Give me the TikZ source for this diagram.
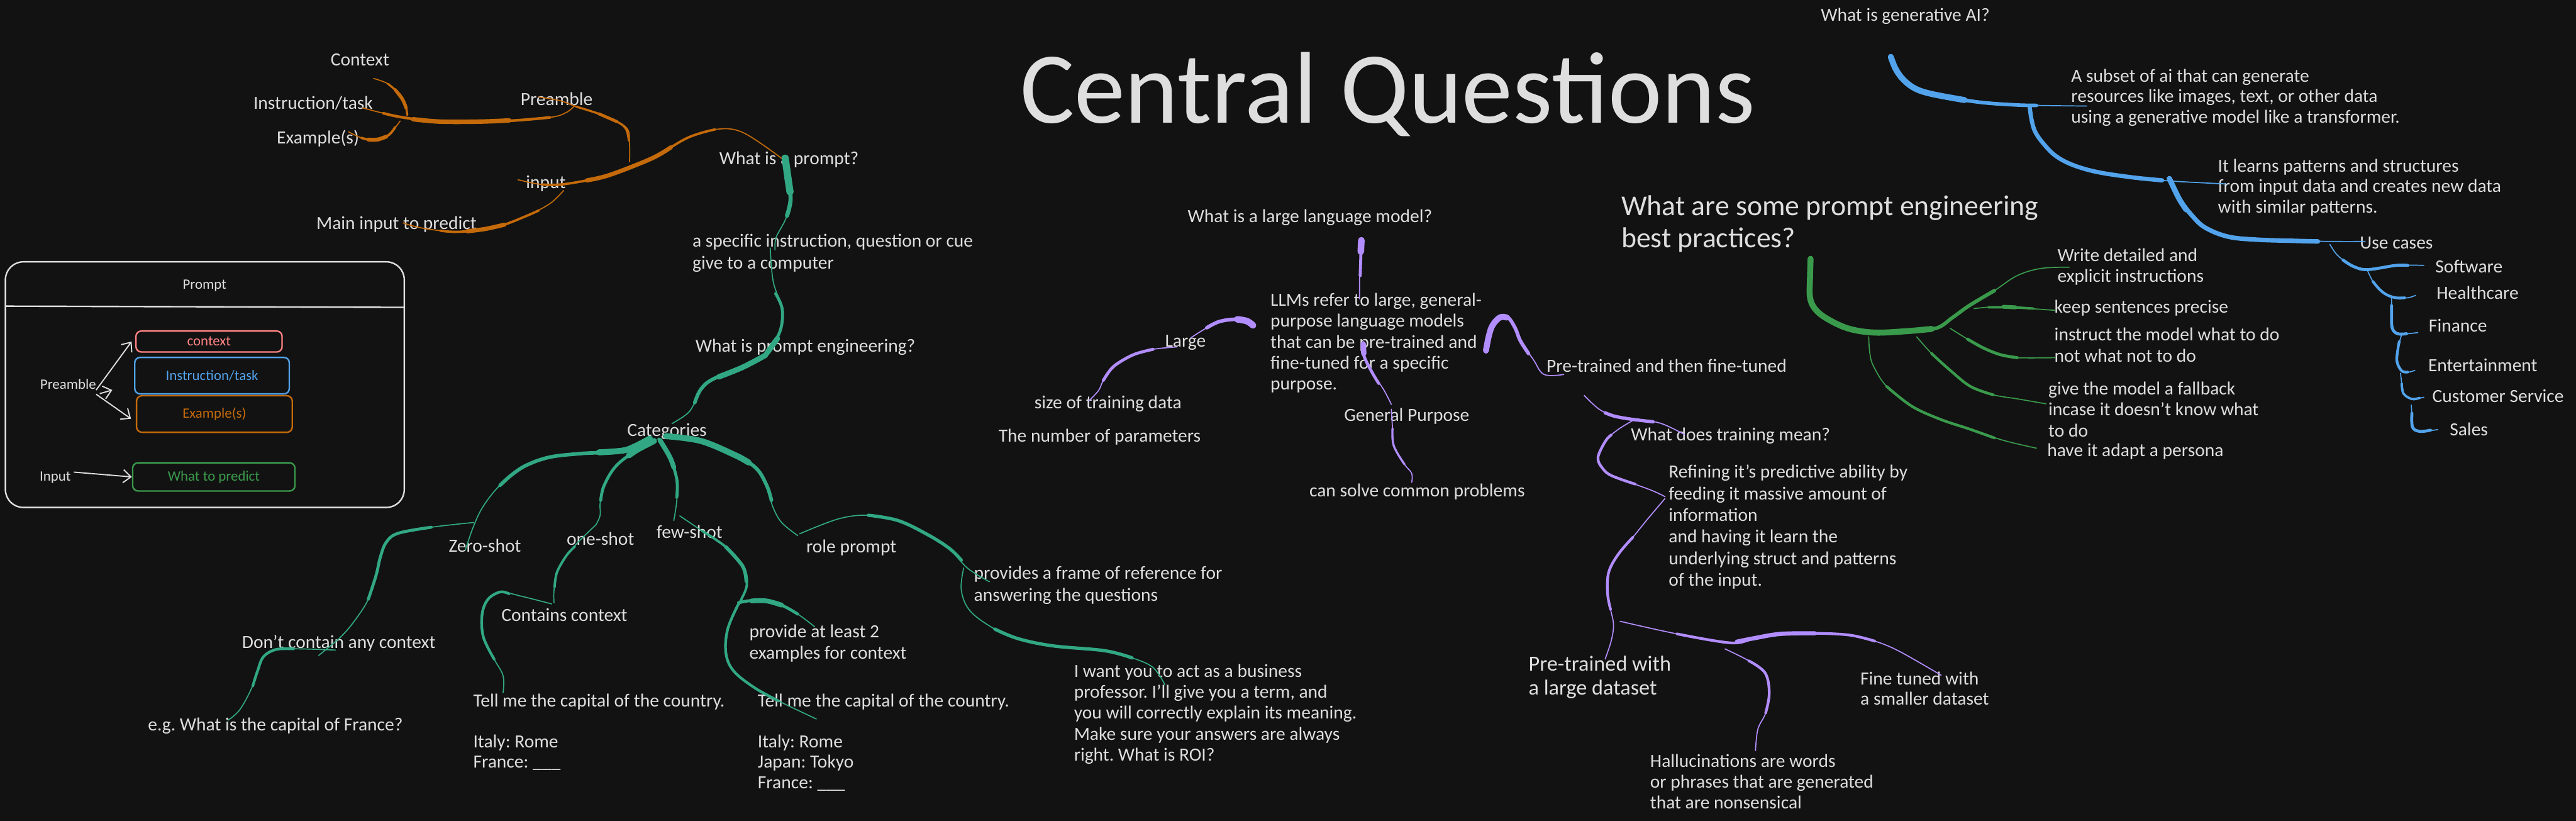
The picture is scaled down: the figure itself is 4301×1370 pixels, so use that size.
\documentclass[tikz,border=0pt]{standalone}
\usepackage{fontspec}
\setmainfont{Carlito}
\usetikzlibrary{arrows.meta}
\frenchspacing
\definecolor{bg}{HTML}{121212}
\definecolor{txt}{HTML}{DEDEDE}
\definecolor{cor}{HTML}{C46A0A}
\definecolor{cte}{HTML}{31A883}
\definecolor{cpu}{HTML}{B28DFF}
\definecolor{cgr}{HTML}{3A9A4C}
\definecolor{cbl}{HTML}{52A3EB}
\definecolor{cpk}{HTML}{FF8383}
\newcommand\mltext[1]{\begin{tabular}[t]{@{}l@{}}#1\end{tabular}}
\newcommand\brushpath[3]{\draw[sk=#1, line width=#2pt] plot[smooth,tension=0.6] coordinates {#3};}
\tikzset{
  lbl/.style={text=txt, inner sep=0pt, anchor=base west, font=\fontsize{31}{35}\selectfont},
  boxlbl/.style={inner sep=0pt, anchor=base west, font=\fontsize{24}{28}\selectfont},
  pbox/.style={draw=#1, text=#1, line width=2.5pt, rounded corners=9pt, inner sep=0pt, font=\fontsize{24}{28}\selectfont},
  arr/.style={draw=txt, line width=2pt, -{Straight Barb[length=13pt,width=22pt,line width=2pt]}},
  sk/.style={draw=#1, line cap=round, line join=round}
}
\begin{document}
\begin{tikzpicture}[x=1pt,y=-1pt]
\useasboundingbox (0,0) rectangle (4301,1370);
\fill[bg] (0,0) rectangle (4301,1370);

% ---------- title ----------
\node[lbl, font=\fontsize{170}{190}\selectfont] (title) at (1703,205) {Central Questions};

% ---------- prompt box ----------
\draw[txt, line width=2.5pt, rounded corners=30pt] (9,437) rectangle (675,847);
\draw[txt, line width=2.5pt] (9,511) -- (675,513);
\node[boxlbl, text=txt] (pprompt) at (305,483) {Prompt};
\node[pbox=cpk, minimum width=244pt, minimum height=35pt] (bctx) at (349,570) {context};
\node[pbox=cbl, minimum width=258pt, minimum height=61pt] (binst) at (354,627) {Instruction/task};
\node[pbox=cor, minimum width=260pt, minimum height=61pt] (bex) at (358,691) {Example(s)};
\node[pbox=cgr, minimum width=271pt, minimum height=47pt] (bpred) at (357,796) {What to predict};
\node[boxlbl, text=txt] (bpre) at (67,649) {Preamble};
\node[boxlbl, text=txt] (binp) at (66,803) {Input};
\draw[arr] ([shift={(0pt,-2pt)}]bpre.base east) -- ([xshift=-6pt]bctx.west);
\draw[arr] ([shift={(6pt,-8pt)}]bpre.base east) -- ([shift={(27pt,-2pt)}]bpre.base east);
\draw[arr] ([shift={(0pt,-9pt)}]bpre.base east) -- ([shift={(-8pt,-8pt)}]bex.west);
\draw[arr] ([shift={(5pt,15pt)}]binp.base east) -- (bpred.west);

% ---------- preamble / input ----------
\node[lbl] (ctxT) at (552,110) {Context};
\node[lbl] (instT) at (423,182) {Instruction/task};
\node[lbl] (exT) at (462,240) {Example(s)};
\node[lbl] (preT) at (869,176) {Preamble};
\node[lbl] (inT) at (878,315) {input};
\node[lbl] (mainT) at (528,383) {Main input to predict};

% ---------- prompt branch ----------
\node[lbl] (wp) at (1201,275) {What is a prompt?};
\node[lbl, font=\fontsize{31}{37}\selectfont] (spec) at (1156,412) {\mltext{a specific instruction, question or cue\\give to a computer}};
\node[lbl] (wpe) at (1161,588) {What is prompt engineering?};
\node[lbl] (cat) at (1047,728) {Categories};
\node[lbl] (zero) at (749,921) {Zero-shot};
\node[lbl] (one) at (946,910) {one-shot};
\node[lbl] (few) at (1096,898) {few-shot};
\node[lbl] (role) at (1346,922) {role prompt};
\node[lbl] (cont) at (837,1037) {Contains context};
\node[lbl] (dont) at (404,1082) {Don't contain any context};
\node[lbl] (eg) at (247,1220) {e.g. What is the capital of France?};
\node[lbl, font=\fontsize{31}{34}\selectfont] (tell1) at (790,1180) {\mltext{Tell me the capital of the country.\\ \\Italy: Rome\\France: \textunderscore\textunderscore\textunderscore}};
\node[lbl, font=\fontsize{31}{34}\selectfont] (tell2) at (1265,1180) {\mltext{Tell me the capital of the country.\\ \\Italy: Rome\\Japan: Tokyo\\France: \textunderscore\textunderscore\textunderscore}};
\node[lbl, font=\fontsize{31}{36}\selectfont] (prov) at (1251,1064) {\mltext{provide at least 2\\examples for context}};
\node[lbl, font=\fontsize{31}{36}\selectfont] (frame) at (1626,967) {\mltext{provides a frame of reference for\\answering the questions}};
\node[lbl] (want) at (1793,1130) {\mltext{I want you to act as a business\\professor. I'll give you a term, and\\you will correctly explain its meaning.\\Make sure your answers are always\\right. What is ROI?}};

% ---------- LLM branch ----------
\node[lbl] (wllm) at (1983,371) {What is a large language model?};
\node[lbl] (llm) at (2121,511) {\mltext{LLMs refer to large, general-\\purpose language models\\that can be pre-trained and\\fine-tuned for a specific\\purpose.}};
\node[lbl] (large) at (1945,579) {Large};
\node[lbl] (size) at (1727,682) {size of training data};
\node[lbl] (nump) at (1667,738) {The number of parameters};
\node[lbl] (gp) at (2244,703) {General Purpose};
\node[lbl] (solve) at (2186,829) {can solve common problems};
\node[lbl] (ptf) at (2582,621) {Pre-trained and then fine-tuned};
\node[lbl] (wtm) at (2723,736) {What does training mean?};
\node[lbl, font=\fontsize{31}{36}\selectfont] (refine) at (2786,798) {\mltext{Refining it's predictive ability by\\feeding it massive amount of\\information\\and having it learn the\\underlying struct and patterns\\of the input.}};
\node[lbl, font=\fontsize{36}{40}\selectfont] (ptl) at (2552,1120) {\mltext{Pre-trained with\\a large dataset}};
\node[lbl, font=\fontsize{31}{34}\selectfont] (ftw) at (3106,1143) {\mltext{Fine tuned with\\a smaller dataset}};
\node[lbl] (hall) at (2755,1280) {\mltext{Hallucinations are words\\or phrases that are generated\\that are nonsensical}};

% ---------- best practices ----------
\node[lbl, font=\fontsize{48}{53}\selectfont] (best) at (2707,360) {\mltext{What are some prompt engineering\\best practices?}};
\node[lbl] (wd) at (3435,436) {\mltext{Write detailed and\\explicit instructions}};
\node[lbl] (keep) at (3430,522) {keep sentences precise};
\node[lbl] (instr) at (3430,569) {\mltext{instruct the model what to do\\not what not to do}};
\node[lbl] (fall) at (3420,659) {\mltext{give the model a fallback\\incase it doesn't know what\\to do}};
\node[lbl] (pers) at (3418,762) {have it adapt a persona};

% ---------- generative AI ----------
\node[lbl] (wga) at (3040,35) {What is generative AI?};
\node[lbl, font=\fontsize{31}{34}\selectfont] (subset) at (3458,137) {\mltext{A subset of ai that can generate\\resources like images, text, or other data\\using a generative model like a transformer.}};
\node[lbl, font=\fontsize{31}{34}\selectfont] (learns) at (3703,287) {\mltext{It learns patterns and structures\\from input data and creates new data\\with similar patterns.}};
\node[lbl] (usec) at (3940,415) {Use cases};
\node[lbl] (sw) at (4066,455) {Software};
\node[lbl] (hc) at (4068,499) {Healthcare};
\node[lbl] (fin) at (4055,554) {Finance};
\node[lbl] (ent) at (4054,620) {Entertainment};
\node[lbl] (cs) at (4061,671) {Customer Service};
\node[lbl] (sal) at (4090,727) {Sales};

% ---------- orange strokes ----------
\brushpath{cor}{1.8}{(624,131) (648,140) (668,158) (677,175) (680,192)}
\brushpath{cor}{3.5}{(648,140) (668,158) (677,175) (680,192)}
\brushpath{cor}{5.5}{(660,150) (672,166) (678,180)}
\brushpath{cor}{1.8}{(605,180) (640,189) (673,196) (735,203) (842,202) (918,196) (945,188) (960,176)}
\brushpath{cor}{4.5}{(640,189) (673,196) (735,203) (842,202) (918,196)}
\brushpath{cor}{7.5}{(690,199) (735,203) (800,203) (850,201)}
\brushpath{cor}{1.8}{(582,220) (603,230) (625,234) (648,226) (668,202)}
\brushpath{cor}{4}{(603,230) (625,234) (648,226) (660,212)}
\brushpath{cor}{6.5}{(615,233) (630,233) (645,228)}
\brushpath{cor}{1.8}{(899,162) (935,168) (962,178) (1000,190) (1045,212) (1051,240) (1051,270)}
\brushpath{cor}{3.5}{(962,178) (1000,190) (1030,203) (1045,215) (1050,235)}
\brushpath{cor}{5}{(1000,190) (1030,203)}
\brushpath{cor}{1.8}{(865,300) (905,308) (945,307) (1018,292) (1087,265) (1148,230) (1194,216) (1240,221) (1306,265)}
\brushpath{cor}{4}{(905,308) (945,307) (1018,292) (1087,265) (1148,230) (1194,216)}
\brushpath{cor}{7}{(980,301) (1018,292) (1087,265) (1120,246)}
\brushpath{cor}{1.8}{(941,318) (918,340) (880,360) (842,375) (811,382) (765,387) (719,383) (689,377) (673,372)}
\brushpath{cor}{4}{(900,351) (880,360) (842,375) (811,382) (765,387) (735,385)}
\brushpath{cor}{7}{(842,375) (811,382) (780,386)}

% ---------- teal strokes ----------
\brushpath{cte}{1.8}{(1311,262) (1316,300) (1320,333) (1312,365) (1296,396) (1294,417)}
\brushpath{cte}{7}{(1311,262) (1316,300) (1320,333) (1314,360)}
\brushpath{cte}{12}{(1311,264) (1316,300) (1319,320)}
\brushpath{cte}{1.8}{(1286,414) (1291,470) (1306,516) (1303,551) (1278,593)}
\brushpath{cte}{5}{(1295,490) (1306,516) (1303,551) (1285,585)}
\brushpath{cte}{9}{(1298,565) (1280,590)}
\brushpath{cte}{1.8}{(1278,593) (1240,613) (1190,633) (1170,650) (1160,672) (1148,690) (1122,707)}
\brushpath{cte}{6}{(1278,593) (1240,613) (1190,633) (1170,650) (1160,672)}
\brushpath{cte}{9}{(1278,593) (1240,613) (1200,629)}
\brushpath{cte}{1.8}{(1085,732) (1040,752) (970,757) (918,763) (880,776) (855,792) (828,817) (805,848) (790,880) (777,918)}
\brushpath{cte}{6}{(1085,732) (1040,752) (970,757) (918,763) (880,776) (855,792) (835,810)}
\brushpath{cte}{10}{(1085,732) (1060,745) (1040,752) (1000,755)}
\brushpath{cte}{1.8}{(791,872) (720,880) (665,890) (645,905) (635,930) (628,960) (615,1000) (595,1032) (570,1062) (532,1094)}
\brushpath{cte}{5}{(720,880) (665,890) (645,905) (635,930) (628,960) (615,1000)}
\brushpath{cte}{1.8}{(560,1085) (500,1083) (461,1084) (440,1096) (430,1120) (419,1151) (400,1185) (381,1202)}
\brushpath{cte}{4.5}{(490,1083) (461,1084) (440,1096) (430,1120) (422,1145)}
\brushpath{cte}{1.8}{(1090,737) (1050,760) (1025,782) (1008,812) (1002,840) (1002,860) (995,876)}
\brushpath{cte}{5}{(1090,737) (1050,760) (1025,782) (1008,812) (1003,835)}
\brushpath{cte}{10}{(1092,736) (1065,750) (1050,760)}
\brushpath{cte}{1.8}{(995,876) (968,902) (946,927) (930,955) (925,985) (925,1006)}
\brushpath{cte}{4}{(960,912) (946,927) (930,955) (926,980)}
\brushpath{cte}{1.8}{(921,1008) (870,995) (835,988) (815,1000) (805,1025) (807,1063) (825,1100) (840,1128) (840,1156)}
\brushpath{cte}{4.5}{(850,991) (835,988) (815,1000) (805,1025) (807,1063) (825,1100)}
\brushpath{cte}{1.8}{(1100,733) (1118,762) (1130,800) (1130,835) (1125,869)}
\brushpath{cte}{5}{(1100,733) (1118,762) (1130,800) (1130,830)}
\brushpath{cte}{8}{(1102,735) (1118,762) (1125,780)}
\brushpath{cte}{1.8}{(1135,861) (1172,886) (1212,913) (1240,945) (1247,975) (1238,1000) (1232,1010)}
\brushpath{cte}{4}{(1172,886) (1212,913) (1240,945) (1247,975) (1238,1000) (1232,1010)}
\brushpath{cte}{6}{(1212,913) (1240,945) (1246,970)}
\brushpath{cte}{1.8}{(1233,1006) (1262,1002) (1300,1008) (1332,1025) (1360,1046)}
\brushpath{cte}{5}{(1233,1006) (1262,1002) (1300,1008) (1332,1025)}
\brushpath{cte}{8}{(1255,1003) (1280,1003) (1305,1010)}
\brushpath{cte}{1.8}{(1232,1010) (1215,1050) (1212,1090) (1225,1120) (1260,1148) (1300,1170) (1363,1200)}
\brushpath{cte}{4.5}{(1232,1010) (1215,1050) (1212,1090) (1225,1120) (1260,1148) (1300,1170)}
\brushpath{cte}{1.8}{(1112,728) (1170,736) (1226,759) (1262,781) (1280,810) (1290,845) (1305,872) (1332,894)}
\brushpath{cte}{6}{(1112,728) (1170,736) (1226,759) (1262,781) (1280,810) (1288,835)}
\brushpath{cte}{10}{(1112,728) (1170,736) (1226,759) (1250,772)}
\brushpath{cte}{1.8}{(1335,891) (1400,866) (1450,860) (1500,869) (1550,893) (1586,916) (1615,948) (1652,971)}
\brushpath{cte}{5.5}{(1450,860) (1500,869) (1550,893) (1586,916) (1605,935)}
\brushpath{cte}{1.8}{(1609,948) (1605,985) (1620,1020) (1661,1050) (1700,1066) (1758,1078) (1844,1086) (1890,1098) (1925,1114) (1945,1143)}
\brushpath{cte}{5.5}{(1661,1050) (1700,1066) (1758,1078) (1844,1086) (1890,1098)}

% ---------- purple strokes ----------
\brushpath{cpu}{1.8}{(2273,399) (2272,430) (2270,465) (2270,499)}
\brushpath{cpu}{5}{(2273,399) (2272,430) (2271,460)}
\brushpath{cpu}{11}{(2273,401) (2272,420)}
\brushpath{cpu}{1.8}{(2092,543) (2080,535) (2060,533) (2035,537) (2010,550) (1988,564)}
\brushpath{cpu}{6}{(2092,543) (2080,535) (2060,533) (2035,537) (2015,547)}
\brushpath{cpu}{11}{(2092,543) (2082,536) (2066,533)}
\brushpath{cpu}{1.8}{(1965,579) (1925,583) (1895,591) (1870,604) (1855,616) (1842,635) (1834,652) (1818,669)}
\brushpath{cpu}{5}{(1925,583) (1895,591) (1870,604) (1855,616) (1842,635)}
\brushpath{cpu}{1.8}{(2276,572) (2277,593) (2290,620) (2310,650) (2323,675)}
\brushpath{cpu}{5}{(2276,572) (2277,593) (2290,620) (2302,640)}
\brushpath{cpu}{9}{(2276,574) (2277,590)}
\brushpath{cpu}{1.8}{(2323,683) (2325,715) (2327,744) (2345,775) (2357,790) (2357,805)}
\brushpath{cpu}{3.5}{(2325,715) (2327,744) (2345,775)}
\brushpath{cpu}{1.8}{(2481,587) (2486,560) (2492,543) (2504,528) (2518,530) (2530,548) (2538,568) (2560,600) (2578,625) (2611,625)}
\brushpath{cpu}{6}{(2481,587) (2486,560) (2492,543) (2504,528) (2518,530) (2530,548) (2538,568) (2552,590)}
\brushpath{cpu}{10}{(2481,585) (2486,560) (2492,543) (2504,530) (2516,530)}
\brushpath{cpu}{1.8}{(2645,660) (2670,683) (2697,695) (2726,700) (2771,706) (2812,725)}
\brushpath{cpu}{5.5}{(2680,689) (2697,695) (2726,700) (2760,704)}
\brushpath{cpu}{1.8}{(2726,702) (2700,718) (2680,737) (2668,764) (2676,782) (2691,794) (2754,817) (2780,829)}
\brushpath{cpu}{4.5}{(2690,726) (2680,737) (2668,764) (2676,782) (2691,794) (2730,808)}
\brushpath{cpu}{1.8}{(2780,832) (2752,865) (2726,897) (2702,925) (2686,955) (2684,990) (2689,1017) (2694,1043) (2690,1070) (2680,1100)}
\brushpath{cpu}{4.5}{(2726,897) (2702,925) (2686,955) (2684,990) (2689,1017)}
\brushpath{cpu}{1.8}{(2705,1037) (2800,1058) (2890,1073) (2930,1065) (2973,1058) (3030,1057) (3088,1060) (3130,1070) (3171,1087) (3241,1127)}
\brushpath{cpu}{4.5}{(2800,1058) (2890,1073) (2930,1065) (2973,1058) (3030,1057) (3088,1060) (3130,1070)}
\brushpath{cpu}{7}{(2900,1071) (2930,1065) (2973,1058) (3030,1057)}
\brushpath{cpu}{1.8}{(2880,1083) (2920,1103) (2947,1123) (2954,1157) (2948,1190) (2935,1217) (2931,1253)}
\brushpath{cpu}{4.5}{(2920,1103) (2947,1123) (2954,1157) (2948,1190)}

% ---------- green strokes ----------
\brushpath{cgr}{1.8}{(3023,430) (3022,465) (3022,496) (3030,515) (3049,531) (3085,548) (3128,555) (3180,553) (3232,548) (3260,530) (3288,510) (3330,485) (3368,460) (3408,448) (3455,446)}
\brushpath{cgr}{6}{(3023,430) (3022,465) (3022,496) (3030,515) (3049,531) (3085,548) (3128,555) (3180,553) (3232,548) (3260,530) (3288,510) (3330,485)}
\brushpath{cgr}{10}{(3023,432) (3022,465) (3022,496) (3030,515) (3049,531) (3085,548) (3128,555) (3180,553) (3225,549)}
\brushpath{cgr}{1.8}{(3296,515) (3330,512) (3360,513) (3431,518)}
\brushpath{cgr}{4}{(3320,513) (3360,513) (3395,515)}
\brushpath{cgr}{6.5}{(3345,512) (3365,513)}
\brushpath{cgr}{1.8}{(3256,548) (3285,566) (3312,581) (3340,592) (3368,597) (3431,597)}
\brushpath{cgr}{5}{(3285,566) (3312,581) (3340,592) (3368,597)}
\brushpath{cgr}{1.8}{(3200,562) (3225,590) (3256,618) (3290,645) (3328,659) (3370,666) (3416,674)}
\brushpath{cgr}{4.5}{(3225,590) (3256,618) (3290,645) (3328,659)}
\brushpath{cgr}{1.8}{(3120,562) (3122,590) (3128,611) (3150,645) (3192,678) (3240,700) (3288,716) (3345,735) (3400,748)}
\brushpath{cgr}{4.5}{(3150,645) (3192,678) (3240,700) (3288,716) (3330,731)}

% ---------- blue strokes ----------
\brushpath{cbl}{1.8}{(3157,93) (3165,115) (3178,133) (3198,148) (3226,157) (3300,170) (3363,175) (3484,177)}
\brushpath{cbl}{6}{(3157,93) (3165,115) (3178,133) (3198,148) (3226,157) (3300,170) (3363,175) (3400,176)}
\brushpath{cbl}{10}{(3157,95) (3165,115) (3178,133) (3198,148) (3226,157) (3280,167)}
\brushpath{cbl}{1.8}{(3389,180) (3392,200) (3398,220) (3412,240) (3432,260) (3460,275) (3501,287) (3560,296) (3622,302) (3716,307)}
\brushpath{cbl}{7}{(3389,180) (3392,200) (3398,220) (3412,240) (3432,260) (3460,275) (3501,287) (3560,296) (3610,301)}
\brushpath{cbl}{1.8}{(3622,298) (3630,315) (3639,333) (3660,360) (3682,380) (3720,395) (3768,400) (3830,402) (3897,403) (3949,403)}
\brushpath{cbl}{7.5}{(3622,298) (3630,315) (3639,333) (3660,360) (3682,380) (3720,395) (3768,400) (3830,402) (3870,403)}
\brushpath{cbl}{9}{(3622,298) (3630,315) (3639,333) (3650,350)}
\brushpath{cbl}{1.8}{(3890,408) (3900,423) (3912,434) (3930,445) (3953,450) (4000,443) (4047,443)}
\brushpath{cbl}{5}{(3912,434) (3930,445) (3953,450) (4000,443) (4020,443)}
\brushpath{cbl}{1.8}{(3953,452) (3962,470) (3973,483) (3985,492) (4000,497) (4020,497) (4033,493)}
\brushpath{cbl}{4.5}{(3962,470) (3973,483) (3985,492) (4000,497) (4015,497)}
\brushpath{cbl}{1.8}{(3993,497) (3993,520) (3994,547) (4003,557) (4020,557) (4037,555)}
\brushpath{cbl}{5}{(3993,510) (3993,520) (3994,547) (4003,557) (4018,557)}
\brushpath{cbl}{1.8}{(4010,558) (4004,580) (4002,603) (4010,619) (4022,621) (4032,618)}
\brushpath{cbl}{4.5}{(4006,570) (4004,580) (4002,603) (4010,619) (4020,621)}
\brushpath{cbl}{1.8}{(4008,623) (4010,640) (4013,657) (4027,666) (4047,663)}
\brushpath{cbl}{4}{(4010,640) (4013,657) (4027,666) (4040,664)}
\brushpath{cbl}{1.8}{(4026,676) (4027,695) (4028,713) (4040,720) (4070,717)}
\brushpath{cbl}{5}{(4027,690) (4028,713) (4040,720) (4058,718)}
\end{tikzpicture}
\end{document}
